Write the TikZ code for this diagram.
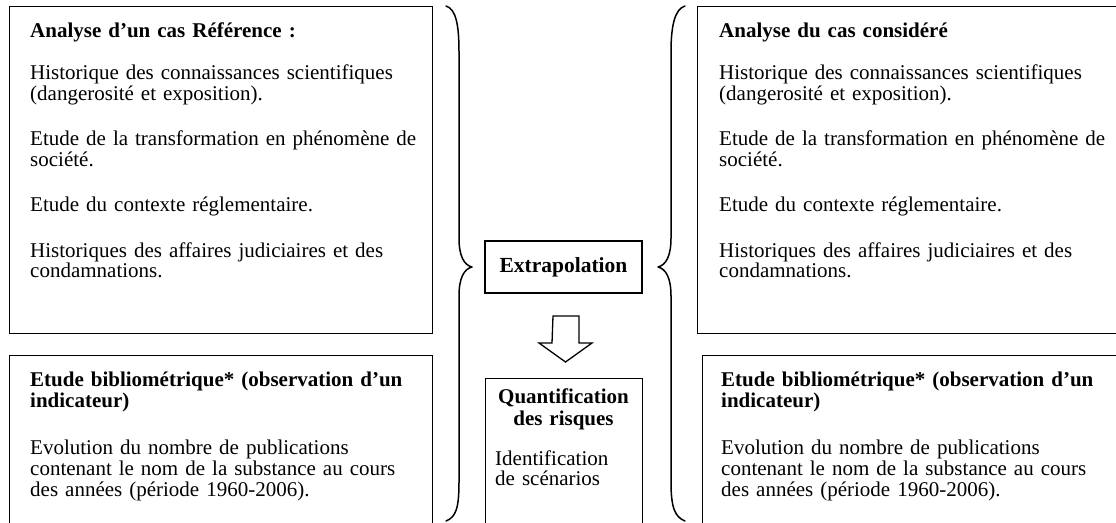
\documentclass[tikz,border=0pt]{standalone}
\usepackage{fontspec}
\setmainfont{Liberation Serif}
\begin{document}
\begin{tikzpicture}[x=1pt,y=-1pt,
  frame/.style={draw, line width=1.3pt, inner sep=0pt, anchor=north west},
  body/.style={inner sep=0pt, anchor=base west, align=left,
    font=\fontsize{21}{20.5}\selectfont, text width=410pt},
  lowbody/.style={body, font=\fontsize{21}{21}\selectfont},
  bodybold/.style={inner sep=0pt, align=center, text width=157pt,
    font=\fontsize{21}{22}\selectfont\bfseries},
  bracket/.style={line width=1.5pt, line cap=round, line join=round},
  blockarrow/.style={line width=1.3pt, line join=miter}]
\useasboundingbox (0,0) rectangle (1116,522);
\clip (0,0) rectangle (1116,522);

% frames of the four analysis boxes (the right and lower ones run past the page)
\node[frame, minimum width=423pt, minimum height=327pt] (refcase) at (9,6) {};
\node[frame, minimum width=423pt, minimum height=200pt] (refbib) at (9,355) {};
\node[frame, minimum width=440pt, minimum height=327pt] (curcase) at (697,6) {};
\node[frame, minimum width=440pt, minimum height=200pt] (curbib) at (702,355) {};

% reference case
\node[body] (refcasetxt) at (30,37) {\textbf{Analyse d’un cas Référence :}\\[22pt]
  Historique des connaissances scientifiques\\
  (dangerosité et exposition).\\[25pt]
  Etude de la transformation en phénomène de\\
  société.\\[25pt]
  Etude du contexte réglementaire.\\[25pt]
  Historiques des affaires judiciaires et des\\
  condamnations.};
\node[lowbody] (refbibtxt) at (30,386.5) {\textbf{Etude bibliométrique* (observation d’un}\\
  \textbf{indicateur)}\\[26pt]
  Evolution du nombre de publications\\
  contenant le nom de la substance au cours\\
  des années (période 1960-2006).};

% case under study
\node[body] (curcasetxt) at (719,37) {\textbf{Analyse du cas considéré}\\[22pt]
  Historique des connaissances scientifiques\\
  (dangerosité et exposition).\\[25pt]
  Etude de la transformation en phénomène de\\
  société.\\[25pt]
  Etude du contexte réglementaire.\\[25pt]
  Historiques des affaires judiciaires et des\\
  condamnations.};
\node[lowbody] (curbibtxt) at (721,386.5) {\textbf{Etude bibliométrique* (observation d’un}\\
  \textbf{indicateur)}\\[26pt]
  Evolution du nombre de publications\\
  contenant le nom de la substance au cours\\
  des années (période 1960-2006).};

% central column
\node[draw, line width=1.3pt, minimum width=157pt, minimum height=52pt, inner sep=0pt,
  font=\fontsize{21.5}{22}\selectfont\bfseries] (extra) at (563.5,267) {Extrapolation};
\node[frame, minimum width=157pt, minimum height=160pt] (quant) at (485,378) {};
\node[bodybold, anchor=base] (quanttitle) at (563.5,403) {Quantification\\des risques};
\node[body, text width=140pt] (quanttxt) at (495,465) {Identification\\de scénarios};

% hollow block arrow between the two central boxes
\coordinate (arrowtop) at (566,316);
\draw[blockarrow] (arrowtop) ++(-13,0) -- ++(26,0) -- ++(0,27) -- ++(13,0)
  -- ++(-26.5,19) -- ++(-26.5,-19) -- ++(13,0) -- cycle;

% braces grouping each side toward the centre
\draw[bracket] (446,6) .. controls (456,9) and (459,25) .. (459,52) -- (459,238)
  .. controls (459,256) and (464,265) .. (472,267)
  .. controls (464,269) and (459,278) .. (459,296) -- (459,482)
  .. controls (459,508) and (456,517) .. (446,521);
\draw[bracket] (685,6) .. controls (675,9) and (671,25) .. (671,52) -- (671,238)
  .. controls (671,256) and (666,265) .. (658,267)
  .. controls (666,269) and (671,278) .. (671,296) -- (671,482)
  .. controls (671,508) and (675,517) .. (685,521);
\end{tikzpicture}
\end{document}
